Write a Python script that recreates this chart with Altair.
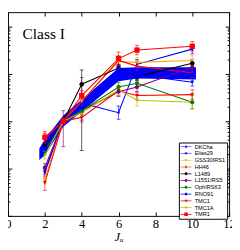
import altair as alt
import pandas as pd

# ---- data (normalised to 1 at J=3) ----
J = [2, 3, 4, 6, 7, 10]
names = ["DKCha", "Elias29", "GSS30IRS1", "HH46", "L1489", "L1551IRS5",
         "OphIRS63", "RNO91", "TMC1", "TMC1A", "TMR1"]
colors = ["#0000ff", "#0000ff", "#ffa500", "#ff0000", "#000000", "#800080",
          "#008000", "#0000ff", "#ff0000", "#bfbf00", "#ff0000"]

DKCha = [0.083, 1.0, 2.40, 1.51, 15.8, 33.1]
Elias29 = [0.087, 1.0, 1.82, 12.0, 9.5, 6.61]
GSS30IRS1 = [0.060, 1.0, 2.63, 18.2, 17.4, 19.1]
HH46 = [0.437, 1.0, 2.63, 19.1, 14.5, 10.5]
L1489 = [0.288, 1.0, 6.03, 13.2, 8.71, 16.6]
L1551IRS5 = [0.105, 1.0, 1.66, 4.17, 5.25, 13.8]
OphIRS63 = [0.240, 1.0, 1.66, 5.25, 6.31, 2.51]
RNO91 = [0.263, 1.0, 1.91, 12.6, 9.12, 9.55]
TMC1 = [0.050, 1.0, 1.20, 4.37, 3.47, 3.63]
TMC1A = [0.191, 1.0, 1.51, 4.57, 2.75, 2.51]
TMR1 = [0.457, 1.0, 3.47, 20.9, 31.6, 38.0]

# error bars in dex (up / down)
err_up = {
    "DKCha": [0.08, 0.05, 0.08, 0.14, 0.10, 0.10],
    "Elias29": [0.06, 0.05, 0.08, 0.08, 0.08, 0.08],
    "GSS30IRS1": [0.10, 0.05, 0.08, 0.10, 0.10, 0.10],
    "HH46": [0.10, 0.05, 0.10, 0.10, 0.10, 0.10],
    "L1489": [0.08, 0.05, 0.30, 0.08, 0.08, 0.08],
    "L1551IRS5": [0.08, 0.22, 0.70, 0.10, 0.10, 0.10],
    "OphIRS63": [0.08, 0.05, 0.08, 0.10, 0.10, 0.14],
    "RNO91": [0.08, 0.05, 0.08, 0.08, 0.08, 0.08],
    "TMC1": [0.08, 0.05, 0.10, 0.10, 0.08, 0.10],
    "TMC1A": [0.08, 0.05, 0.08, 0.12, 0.12, 0.14],
    "TMR1": [0.12, 0.05, 0.10, 0.14, 0.10, 0.10],
}
err_dn = {
    "DKCha": [0.08, 0.05, 0.08, 0.14, 0.10, 0.10],
    "Elias29": [0.06, 0.05, 0.08, 0.08, 0.08, 0.08],
    "GSS30IRS1": [0.10, 0.05, 0.08, 0.10, 0.10, 0.10],
    "HH46": [0.10, 0.05, 0.10, 0.10, 0.10, 0.10],
    "L1489": [0.08, 0.05, 1.40, 0.08, 0.08, 0.08],
    "L1551IRS5": [0.08, 0.54, 0.20, 0.10, 0.10, 0.10],
    "OphIRS63": [0.08, 0.05, 0.08, 0.10, 0.10, 0.14],
    "RNO91": [0.08, 0.05, 0.08, 0.08, 0.08, 0.08],
    "TMC1": [0.16, 0.05, 0.10, 0.10, 0.08, 0.10],
    "TMC1A": [0.08, 0.05, 0.08, 0.12, 0.12, 0.14],
    "TMR1": [0.12, 0.05, 0.10, 0.14, 0.10, 0.10],
}

series_vals = [DKCha, Elias29, GSS30IRS1, HH46, L1489, L1551IRS5,
               OphIRS63, RNO91, TMC1, TMC1A, TMR1]

# model band (blue)
band_J = [1.7, 2.0, 3.0, 6.0, 7.0, 10.2]
band_lo = [0.151, 0.191, 0.76, 6.92, 7.94, 7.59]
band_hi = [0.263, 0.417, 1.32, 13.2, 13.8, 13.8]

# ---- marker styles ----
THIN_D = "M0,-1L0.6,0L0,1L-0.6,0Z"
markers = ["dia", "tri", "tri", "dia", "cir", "cir", "cir", "cir", "tri", "dia", "sq"]
marker_shapes = {"dia": THIN_D, "tri": "triangle-down", "cir": "circle", "sq": "square"}
msizes = [18, 16, 16, 18, 22, 18, 18, 24, 16, 18, 30]
LINE = "M-2.8,-0.17H2.8V0.17H-2.8Z"
DIA = "M0,-0.9L0.55,0L0,0.9L-0.55,0Z"
TRI = "M-0.8,-0.55L0.8,-0.55L0,0.8Z"
CIR = "M0.75,0A0.75,0.75,0,1,1,-0.75,0A0.75,0.75,0,1,1,0.75,0Z"
SQR = "M-0.9,-0.9H0.9V0.9H-0.9Z"
leg_paths = [LINE + DIA, LINE + TRI, LINE + TRI, LINE + DIA, LINE + CIR, LINE + CIR,
             LINE + CIR, LINE + CIR, LINE + TRI, LINE + DIA, LINE + SQR]

rows = []
for i, n in enumerate(names):
    for k, j in enumerate(J):
        v = series_vals[i][k]
        rows.append({
            "series": n, "J": j, "value": v,
            "lo": v / (10 ** err_dn[n][k]), "hi": v * (10 ** err_up[n][k]),
            "marker": markers[i], "size": msizes[i],
        })
df = pd.DataFrame(rows)
band_df = pd.DataFrame({"J": band_J, "lo": band_lo, "hi": band_hi})

xscale = alt.Scale(domain=[0, 12], nice=False, zero=False)
yscale = alt.Scale(type="log", domain=[0.01, 199.5], nice=False)
cscale = alt.Scale(domain=names, range=colors)

major = [0.01, 0.1, 1, 10, 100]
minor = [m * d for d in [0.01, 0.1, 1, 10] for m in range(2, 10)]

common = dict(grid=False, domain=False, tickColor="black", title=None)
ax_bottom = alt.Axis(orient="bottom", values=[0, 2, 4, 6, 8, 10, 12], tickSize=4,
                     offset=-4, labelFlush=False, labelFont="Liberation Serif",
                     labelFontSize=13, labelColor="black", labelPadding=2,
                     grid=False, domain=False, tickColor="black",
                     title="Jᵤ", titleFont="Liberation Serif", titleFontStyle="italic",
                     titleFontWeight="normal", titleFontSize=13, titleColor="black",
                     titlePadding=1)
ax_top = alt.Axis(orient="top", values=[0, 2, 4, 6, 8, 10, 12], tickSize=4, offset=-4,
                  labels=False, **common)
ax_left = alt.Axis(orient="left", values=major, tickSize=4, offset=-4, labels=False, **common)
ax_right = alt.Axis(orient="right", values=major, tickSize=4, offset=-4, labels=False, **common)
ax_left_min = alt.Axis(orient="left", values=minor, tickSize=2, offset=-2, labels=False, **common)
ax_right_min = alt.Axis(orient="right", values=minor, tickSize=2, offset=-2, labels=False, **common)

leg = alt.Legend(orient="none", legendX=177, legendY=135, title=None,
                 labelFont="Liberation Sans", labelFontSize=5.8, labelColor="black",
                 symbolSize=16, symbolStrokeWidth=0, symbolOffset=3, labelOffset=6,
                 rowPadding=0, padding=1.5, strokeColor="black", fillColor="white",
                 symbolOpacity=1, cornerRadius=0, labelLimit=60)

col = alt.Color("series:N", scale=cscale, legend=leg)
X = alt.X("J:Q", scale=xscale, axis=None)
Yv = alt.Y("value:Q", scale=yscale, axis=None)

band = alt.Chart(band_df).mark_area(color="#0000ff", opacity=1).encode(
    x=alt.X("J:Q", scale=xscale, axis=ax_bottom),
    y=alt.Y("lo:Q", scale=yscale, axis=ax_left),
    y2="hi:Q",
)

errs = alt.Chart(df).mark_rule(strokeWidth=1, opacity=0.65).encode(
    x=alt.X("J:Q", scale=xscale, axis=ax_top),
    y=alt.Y("lo:Q", scale=yscale, axis=ax_right),
    y2="hi:Q",
    color=col,
)
caps_lo = alt.Chart(df).mark_tick(orient="horizontal", size=4, thickness=1, opacity=0.65).encode(
    x=X, y=alt.Y("lo:Q", scale=yscale, axis=ax_left_min), color=col,
)
caps_hi = alt.Chart(df).mark_tick(orient="horizontal", size=4, thickness=1, opacity=0.65).encode(
    x=X, y=alt.Y("hi:Q", scale=yscale, axis=ax_right_min), color=col,
)
lines = alt.Chart(df).mark_line(strokeWidth=1.1).encode(
    x=X, y=Yv, color=col, detail="series:N",
)
point_layers = [
    alt.Chart(df).transform_filter(alt.datum.marker == key).mark_point(
        filled=True, opacity=1, strokeWidth=0.5, shape=shp).encode(
        x=X, y=Yv, color=col, size=alt.Size("size:Q", scale=None),
    )
    for key, shp in marker_shapes.items()
]

legend_layer = alt.Chart(df).transform_filter("datum.J > 100").mark_point(
    filled=True, opacity=1, strokeWidth=0).encode(
    x=X, y=Yv,
    color=col,
    shape=alt.Shape("series:N", scale=alt.Scale(domain=names, range=leg_paths), legend=leg),
)

label = alt.Chart(pd.DataFrame({"t": ["Class I"]})).mark_text(
    font="Liberation Serif", fontSize=16, align="left", baseline="alphabetic", color="black"
).encode(text="t:N", x=alt.value(15), y=alt.value(28))

chart = alt.layer(band, errs, caps_lo, caps_hi, lines, *point_layers, legend_layer, label
).resolve_axis(x="independent", y="independent").properties(
    width=229, height=211,
    autosize=alt.AutoSizeParams(type="none"),
    padding={"left": 0, "top": 0, "right": 3, "bottom": 31},
).configure_view(stroke="black", strokeWidth=1)

chart.save("out.html", embed_options={"renderer": "svg", "actions": False})
